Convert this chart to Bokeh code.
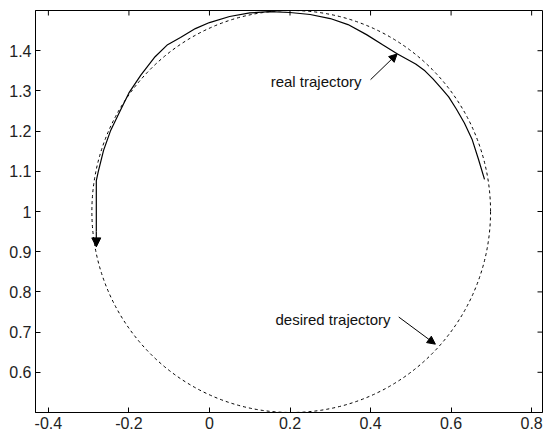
from bokeh.plotting import figure
from bokeh.models import (Range1d, LinearAxis, FixedTicker, Arrow, NormalHead,
                          Label)
from bokeh.embed import file_html
from bokeh.resources import INLINE

# Desired path: circle centre and diameters (data units)
circle_center_x = [0.203]
circle_center_y = [1.0]
circle_width = [0.99]
circle_height = [1.0]

# Measured (real) trajectory, traced counter-clockwise from the right side
real_x = [0.683, 0.668, 0.652, 0.633, 0.613, 0.594, 0.577, 0.555, 0.535,
          0.512, 0.467, 0.43, 0.39, 0.344, 0.30, 0.25, 0.20, 0.15, 0.10,
          0.05, 0.0, -0.035, -0.072, -0.104, -0.135, -0.17, -0.20, -0.222,
          -0.246, -0.263, -0.276, -0.281, -0.281]
real_y = [1.08, 1.13, 1.18, 1.22, 1.255, 1.285, 1.305, 1.33, 1.35,
          1.367, 1.392, 1.415, 1.44, 1.465, 1.48, 1.49, 1.495, 1.497, 1.494,
          1.485, 1.47, 1.455, 1.433, 1.415, 1.385, 1.34, 1.295, 1.25,
          1.20, 1.152, 1.10, 1.077, 0.95]
# Final arrow head at the end of the trajectory
end_arrow = dict(x_start=-0.281, y_start=0.95, x_end=-0.281, y_end=0.912)

x_range = (-0.432, 0.827)
y_range = (0.5, 1.5)
x_ticks = [-0.4, -0.2, 0, 0.2, 0.4, 0.6, 0.8]
y_ticks = [0.6, 0.7, 0.8, 0.9, 1.0, 1.1, 1.2, 1.3, 1.4]
x_tick_labels = {-0.4: "-0.4", -0.2: "-0.2", 0: "0", 0.2: "0.2", 0.4: "0.4",
                 0.6: "0.6", 0.8: "0.8"}
y_tick_labels = {0.6: "0.6", 0.7: "0.7", 0.8: "0.8", 0.9: "0.9", 1.0: "1",
                 1.1: "1.1", 1.2: "1.2", 1.3: "1.3", 1.4: "1.4"}

# Annotations: text anchor and pointer arrow (tail -> tip)
annotations = [
    dict(text="real trajectory", tx=0.152, ty=1.3225,
         x0=0.40, y0=1.328, x1=0.466, y1=1.392),
    dict(text="desired trajectory", tx=0.164, ty=0.7325,
         x0=0.47, y0=0.7375, x1=0.561, y1=0.67),
]

FONT = "Liberation Sans"
W, H = 544, 434
BORDER_L, BORDER_R, BORDER_T, BORDER_B = 35, 2, 10, 22
TICK_PX = 5

p = figure(width=W, height=H, output_backend="svg", toolbar_location=None,
           x_range=Range1d(*x_range), y_range=Range1d(*y_range),
           x_axis_location=None, y_axis_location=None,
           min_border_left=BORDER_L, min_border_right=BORDER_R,
           min_border_top=BORDER_T, min_border_bottom=BORDER_B)
p.background_fill_color = "white"
p.border_fill_color = "white"
p.outline_line_color = "black"
p.outline_line_width = 1
p.xgrid.visible = False
p.ygrid.visible = False


def make_axis(ticks, labels):
    ax = LinearAxis(ticker=FixedTicker(ticks=ticks))
    ax.major_label_overrides = labels
    ax.major_tick_in = TICK_PX
    ax.major_tick_out = 0
    ax.minor_tick_in = 0
    ax.minor_tick_out = 0
    ax.axis_line_color = "black"
    ax.major_tick_line_color = "black"
    ax.major_label_text_font = FONT
    ax.major_label_text_color = "#222222"
    ax.major_label_text_font_size = "16px"
    ax.major_label_standoff = 4
    return ax


p.add_layout(make_axis(x_ticks, x_tick_labels), "below")
p.add_layout(make_axis(y_ticks, y_tick_labels), "left")

# Inward ticks along the top and right edges of the box
frame_w = W - BORDER_L - BORDER_R
frame_h = H - BORDER_T - BORDER_B
tick_dy = TICK_PX * (y_range[1] - y_range[0]) / frame_h
tick_dx = TICK_PX * (x_range[1] - x_range[0]) / frame_w
p.segment(x0=x_ticks, x1=x_ticks, y0=[y_range[1]] * len(x_ticks),
          y1=[y_range[1] - tick_dy] * len(x_ticks), line_color="black",
          line_width=1)
p.segment(x0=[x_range[1]] * len(y_ticks), x1=[x_range[1] - tick_dx] * len(y_ticks),
          y0=y_ticks, y1=y_ticks, line_color="black", line_width=1)

# Desired circular path, dashed
p.ellipse(x=circle_center_x, y=circle_center_y, width=circle_width,
          height=circle_height, fill_color=None, line_color="black",
          line_width=1, line_dash="3 3")

# Real trajectory, solid
p.line(x=real_x, y=real_y, line_color="black", line_width=1.2)
p.add_layout(Arrow(end=NormalHead(size=9, fill_color="black", line_color="black"),
                   line_color="black", line_width=1.2, **end_arrow))

for a in annotations:
    p.add_layout(Label(x=a["tx"], y=a["ty"], text=a["text"], text_font=FONT,
                       text_font_size="15px", text_baseline="middle",
                       text_color="#111111"))
    p.add_layout(Arrow(end=NormalHead(size=8, fill_color="black",
                                      line_color="black"),
                       x_start=a["x0"], y_start=a["y0"], x_end=a["x1"],
                       y_end=a["y1"], line_color="black", line_width=1))

open("out.html", "w").write(file_html(p, INLINE))
